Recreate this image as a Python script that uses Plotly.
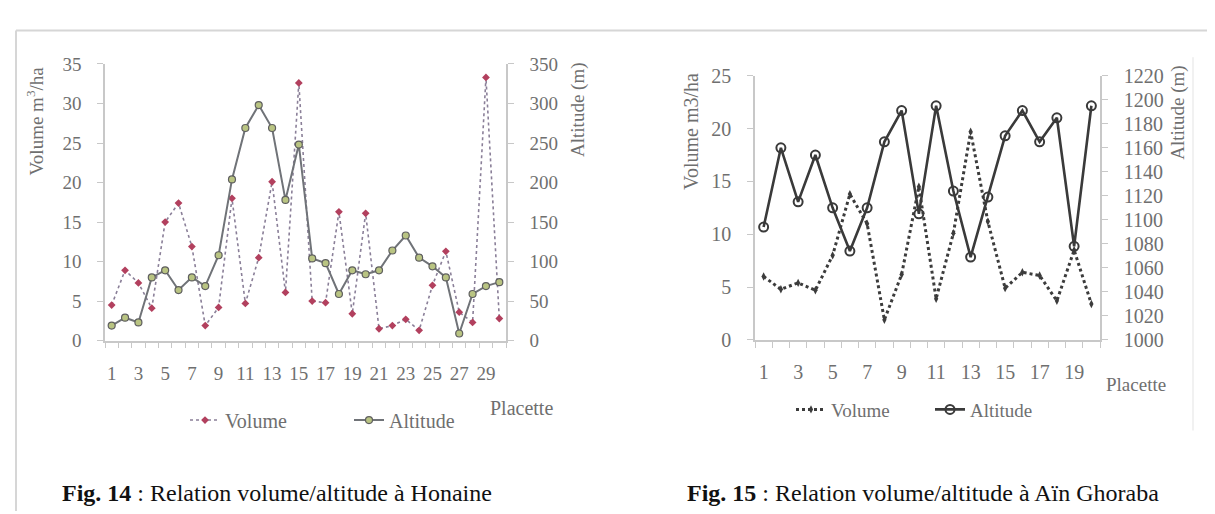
import plotly.graph_objects as go

W, H = 1215, 514

# ---- Data: Fig. 14 Honaine ----
placette_14 = list(range(1, 31))
volume_14 = [4.5, 8.9, 7.3, 4.1, 15.0, 17.4, 11.9, 1.9, 4.2, 18.0,
             4.7, 10.5, 20.1, 6.1, 32.6, 5.0, 4.8, 16.3, 3.4, 16.1,
             1.5, 1.9, 2.7, 1.3, 7.0, 11.3, 3.6, 2.3, 33.3, 2.8]
altitude_14 = [19, 29, 23, 80, 89, 64, 80, 69, 108, 204,
               269, 298, 269, 178, 248, 104, 98, 59, 89, 84,
               89, 114, 133, 105, 94, 80, 9, 59, 69, 74]

# ---- Data: Fig. 15 Aïn Ghoraba ----
placette_15 = list(range(1, 21))
volume_15 = [6.0, 4.8, 5.4, 4.7, 8.0, 13.8, 11.0, 1.9, 6.2, 14.5,
             3.9, 10.1, 19.7, 11.2, 4.9, 6.4, 6.1, 3.7, 8.5, 3.4]
altitude_15 = [1094, 1160, 1115, 1154, 1110, 1074, 1110, 1165, 1191, 1105,
               1195, 1124, 1069, 1119, 1170, 1191, 1165, 1185, 1078, 1195]

ticks_x14 = list(range(1, 30, 2))
ticks_x15 = list(range(1, 20, 2))


def fx(px):
    return px / W


def fy(py):
    return 1 - py / H


SERIF = "Liberation Serif"
GREY = "#6f6f6f"
AXC = "#c8c8c8"

fig = go.Figure()

# Left chart traces
fig.add_trace(go.Scatter(
    x=placette_14, y=volume_14, name="Volume", mode="lines+markers",
    line=dict(color="#8a7f98", width=1.6, dash="dot"),
    marker=dict(symbol="diamond", size=6, color="#b2405e"),
    xaxis="x", yaxis="y", legend="legend"))
fig.add_trace(go.Scatter(
    x=placette_14, y=altitude_14, name="Altitude", mode="lines+markers",
    line=dict(color="#707378", width=2),
    marker=dict(symbol="circle", size=7, color="#b9c482",
                line=dict(color="#5f5f5f", width=1.2)),
    xaxis="x", yaxis="y2", legend="legend"))

# Right chart traces
fig.add_trace(go.Scatter(
    x=placette_15, y=volume_15, name="Volume", mode="lines+markers",
    line=dict(color="#3c3c3c", width=3, dash="dot"),
    marker=dict(symbol="diamond-tall", size=6, color="#3c3c3c"),
    xaxis="x2", yaxis="y3", legend="legend2"))
fig.add_trace(go.Scatter(
    x=placette_15, y=altitude_15, name="Altitude", mode="lines+markers",
    line=dict(color="#3a3a3a", width=2.6),
    marker=dict(symbol="circle-open", size=9, color="#3a3a3a",
                line=dict(width=2)),
    xaxis="x2", yaxis="y4", legend="legend2"))

tf_left = dict(family=SERIF, size=19, color=GREY)
tf_right = dict(family=SERIF, size=20, color=GREY)

common_x = dict(showgrid=False, zeroline=False, showline=True, linecolor=AXC,
                linewidth=1.5, ticks="", ticklen=0,
                minor=dict(ticks="outside", ticklen=6, tickcolor=AXC,
                           tick0=0.5, dtick=1, showgrid=False),
                fixedrange=True)
common_y = dict(showgrid=False, zeroline=False, showline=True, linecolor=AXC,
                linewidth=1.5, ticks="outside", ticklen=6, tickcolor=AXC,
                ticklabelstandoff=12, fixedrange=True)

fig.update_layout(
    width=W, height=H, margin=dict(l=0, r=0, t=0, b=0),
    paper_bgcolor="white", plot_bgcolor="white",
    xaxis=dict(common_x, domain=[fx(97), fx(498)], range=[0.5, 30.5],
               tickvals=ticks_x14, anchor="y", tickfont=tf_left,
               ticklabelstandoff=15),
    yaxis=dict(common_y, domain=[fy(336), fy(47)], range=[0, 35], dtick=5,
               anchor="x", tickfont=tf_left),
    yaxis2=dict(common_y, range=[0, 350], dtick=50, overlaying="y",
                side="right", anchor="x", tickfont=tf_left),
    xaxis2=dict(common_x, domain=[fx(747), fx(1092)], range=[0.5, 20.5],
                tickvals=ticks_x15, anchor="y3", tickfont=tf_right,
                ticklabelstandoff=13),
    yaxis3=dict(common_y, domain=[fy(335.3), fy(59.3)], range=[0, 25],
                dtick=5, anchor="x2", tickfont=tf_right),
    yaxis4=dict(common_y, range=[1000, 1220], dtick=20, overlaying="y3",
                side="right", anchor="x2", tickfont=tf_right),
    legend=dict(orientation="h", x=fx(177), y=fy(419), xanchor="left",
                yanchor="middle", font=dict(family=SERIF, size=20, color=GREY),
                bgcolor="rgba(0,0,0,0)", entrywidth=119,
                entrywidthmode="pixels"),
    legend2=dict(orientation="h", x=fx(783), y=fy(408), xanchor="left",
                 yanchor="middle", font=dict(family=SERIF, size=19, color=GREY),
                 bgcolor="rgba(0,0,0,0)", entrywidth=94,
                 entrywidthmode="pixels"),
    showlegend=True,
)

annos = [
    dict(text="Volume m<sup>3</sup>/ha", x=fx(27), y=fy(107), textangle=-90,
         font=dict(family=SERIF, size=19, color=GREY)),
    dict(text="Altitude (m)", x=fx(570), y=fy(95), textangle=-90,
         font=dict(family=SERIF, size=19, color=GREY)),
    dict(text="Placette", x=fx(513), y=fy(406),
         font=dict(family=SERIF, size=20, color=GREY)),
    dict(text="Volume m3/ha", x=fx(683), y=fy(118), textangle=-90,
         font=dict(family=SERIF, size=20, color=GREY)),
    dict(text="Altitude (m)", x=fx(1170), y=fy(98), textangle=-90,
         font=dict(family=SERIF, size=19, color=GREY)),
    dict(text="Placette", x=fx(1128), y=fy(382),
         font=dict(family=SERIF, size=19, color=GREY)),
    dict(text="<b>Fig. 14</b> : Relation volume/altitude à Honaine",
         x=fx(52), y=fy(495), xanchor="left",
         font=dict(family=SERIF, size=24, color="#111")),
    dict(text="<b>Fig. 15</b> : Relation volume/altitude à Aïn Ghoraba",
         x=fx(677), y=fy(495), xanchor="left",
         font=dict(family=SERIF, size=24, color="#111")),
]
for a in annos:
    a.setdefault("xanchor", "center")
    fig.add_annotation(xref="paper", yref="paper", showarrow=False,
                       yanchor="middle", **a)

# Page frame lines
fig.add_shape(type="line", xref="paper", yref="paper", x0=fx(8), x1=1,
              y0=fy(12), y1=fy(12), line=dict(color="#d6d6d6", width=2))
fig.add_shape(type="line", xref="paper", yref="paper", x0=fx(8), x1=fx(8),
              y0=fy(12), y1=0, line=dict(color="#d6d6d6", width=2))
fig.add_shape(type="line", xref="paper", yref="paper", x0=fx(1185), x1=fx(1185),
              y0=fy(40), y1=fy(430), line=dict(color="#ececec", width=1.5))

fig.write_html("out.html")
